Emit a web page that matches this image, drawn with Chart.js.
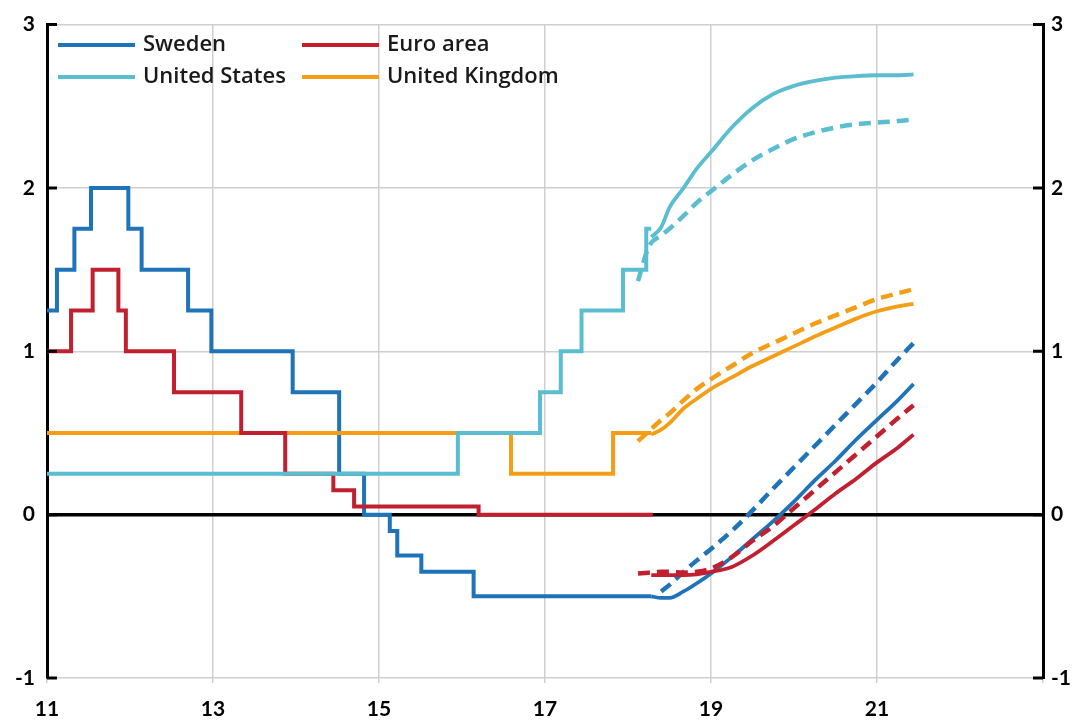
<!DOCTYPE html>
<html>
<head>
<meta charset="utf-8">
<script src="https://cdn.jsdelivr.net/npm/chart.js@4"></script>
<style>
  html, body { margin: 0; padding: 0; background: #fff; }
  #wrap { width: 1080px; height: 724px; position: relative; }
</style>
</head>
<body>
<div id="wrap"><canvas id="rateChart"></canvas></div>
<script>
// Policy rates, per cent (x = year, 11 = 2011)

// Actual outcomes (step changes)
const swedenDates = [11, 11.12, 11.33, 11.53, 11.98, 12.14, 12.70, 12.98, 13.96, 14.52, 14.82, 15.13, 15.22, 15.51, 16.14, 18.28];
const swedenRates = [1.25, 1.5, 1.75, 2.0, 1.75, 1.5, 1.25, 1.0, 0.75, 0.25, 0, -0.1, -0.25, -0.35, -0.5, -0.5];

const euroDates = [11, 11.29, 11.55, 11.86, 11.95, 12.53, 13.34, 13.87, 14.45, 14.70, 16.20, 18.30];
const euroRates = [1.0, 1.25, 1.5, 1.25, 1.0, 0.75, 0.5, 0.25, 0.15, 0.05, 0, 0];

const usDates = [11, 15.95, 16.94, 17.19, 17.44, 17.94, 18.22, 18.28];
const usRates = [0.25, 0.5, 0.75, 1.0, 1.25, 1.5, 1.75, 1.75];

const ukDates = [11, 16.59, 17.82, 18.28];
const ukRates = [0.5, 0.25, 0.5, 0.5];

// Forward rates, latest (solid)
const newFcDates = [18.28, 18.4, 18.5, 18.67, 18.83, 19.0, 19.25, 19.5, 19.75, 20.0, 20.25, 20.5, 20.75, 21.0, 21.25, 21.44];
const swedenNew = [-0.50, -0.51, -0.51, -0.47, -0.42, -0.36, -0.26, -0.15, -0.04, 0.08, 0.21, 0.33, 0.46, 0.58, 0.70, 0.80];
const euroNew = [-0.37, -0.37, -0.37, -0.37, -0.365, -0.35, -0.32, -0.25, -0.16, -0.065, 0.03, 0.13, 0.22, 0.32, 0.41, 0.49];
const usNew = [1.70, 1.76, 1.88, 2.0, 2.12, 2.22, 2.37, 2.49, 2.575, 2.625, 2.655, 2.675, 2.685, 2.69, 2.69, 2.695];
const ukNew = [0.49, 0.52, 0.56, 0.65, 0.71, 0.77, 0.84, 0.91, 0.97, 1.03, 1.09, 1.145, 1.20, 1.245, 1.275, 1.29];

// Forward rates, earlier (dashed)
const oldFcDates = [18.12, 18.25, 18.4, 18.5, 18.67, 18.83, 19.0, 19.25, 19.5, 19.75, 20.0, 20.25, 20.5, 20.75, 21.0, 21.25, 21.44];
const swedenOld = [null, null, -0.47, -0.43, -0.35, -0.28, -0.21, -0.10, 0.026, 0.16, 0.29, 0.42, 0.55, 0.68, 0.81, 0.95, 1.05];
const euroOld = [-0.36, -0.355, -0.35, -0.35, -0.355, -0.35, -0.33, -0.26, -0.16, -0.07, 0.04, 0.15, 0.26, 0.37, 0.48, 0.59, 0.67];
const usOld = [1.43, 1.64, 1.71, 1.75, 1.83, 1.91, 1.98, 2.08, 2.17, 2.24, 2.30, 2.34, 2.37, 2.39, 2.40, 2.41, 2.42];
const ukOld = [0.45, 0.51, 0.58, 0.62, 0.70, 0.77, 0.83, 0.91, 0.99, 1.05, 1.11, 1.17, 1.22, 1.27, 1.32, 1.355, 1.38];

// Axis ticks
const xTicks = [11, 13, 15, 17, 19, 21];
const yTicks = [-1, 0, 1, 2, 3];

const legendNames = ['Sweden', 'Euro area', 'United States', 'United Kingdom'];

const BLUE = '#1f73b9';
const RED = '#c0202f';
const LIGHT = '#5bbdd0';
const ORANGE = '#f49d16';

const pts = (xs, ys) => xs.map((x, i) => ({ x: x, y: ys[i] }));

function stepSet(xs, ys, color) {
    return { data: pts(xs, ys), borderColor: color, borderWidth: 4, stepped: true, pointRadius: 0, fill: false };
}
function fcSet(xs, ys, color, dashed) {
    return {
        data: pts(xs, ys), borderColor: color, borderWidth: dashed ? 4.5 : 3.8,
        borderDash: dashed ? [12, 7] : [], cubicInterpolationMode: 'monotone',
        pointRadius: 0, fill: false, spanGaps: false
    };
}

// legend drawn inside the plot, two columns
const legendPlugin = {
    id: 'innerLegend',
    afterDatasetsDraw(chart) {
        const ctx = chart.ctx;
        const items = [
            { name: legendNames[0], color: BLUE, x: 58, y: 45 },
            { name: legendNames[1], color: RED, x: 302, y: 45 },
            { name: legendNames[2], color: LIGHT, x: 58, y: 77 },
            { name: legendNames[3], color: ORANGE, x: 302, y: 77 }
        ];
        ctx.save();
        ctx.font = '600 22px "Open Sans"';
        ctx.textBaseline = 'middle';
        items.forEach(it => {
            ctx.strokeStyle = it.color;
            ctx.lineWidth = 4;
            ctx.beginPath();
            ctx.moveTo(it.x, it.y);
            ctx.lineTo(it.x + 77, it.y);
            ctx.stroke();
            ctx.fillStyle = '#1a1a1a';
            ctx.fillText(it.name, it.x + 85, it.y);
        });
        ctx.restore();
    }
};

// short black ticks pointing into the plot on both y axes
const innerTicks = {
    id: 'innerTicks',
    afterDraw(chart) {
        const ctx = chart.ctx;
        const area = chart.chartArea;
        const y = chart.scales.y;
        ctx.save();
        ctx.strokeStyle = '#000';
        ctx.lineWidth = 3;
        yTicks.forEach(v => {
            const py = y.getPixelForValue(v);
            ctx.beginPath();
            ctx.moveTo(area.left, py);
            ctx.lineTo(area.left + 10, py);
            ctx.moveTo(area.right - 10, py);
            ctx.lineTo(area.right, py);
            ctx.stroke();
        });
        ctx.restore();
    }
};

const tickFont = { family: 'Lato', size: 21, weight: 'bold' };

// draw order: later datasets end up on top
new Chart(document.getElementById('rateChart'), {
    type: 'line',
    data: {
        datasets: [
            stepSet(usDates, usRates, LIGHT),
            stepSet(euroDates, euroRates, RED),
            stepSet(ukDates, ukRates, ORANGE),
            stepSet(swedenDates, swedenRates, BLUE),
            fcSet(oldFcDates, usOld, LIGHT, true),
            fcSet(newFcDates, usNew, LIGHT, false),
            fcSet(oldFcDates, ukOld, ORANGE, true),
            fcSet(newFcDates, ukNew, ORANGE, false),
            fcSet(oldFcDates, euroOld, RED, true),
            fcSet(newFcDates, euroNew, RED, false),
            fcSet(oldFcDates, swedenOld, BLUE, true),
            fcSet(newFcDates, swedenNew, BLUE, false)
        ]
    },
    options: {
        responsive: true,
        maintainAspectRatio: false,
        animation: false,
        layout: { padding: { top: 22, left: 0, right: 0, bottom: 0 } },
        plugins: {
            legend: { display: false },
            tooltip: { enabled: false }
        },
        scales: {
            x: {
                type: 'linear',
                min: 11,
                max: 23,
                afterBuildTicks: scale => {
                    scale.ticks = xTicks.concat([23]).map(v => ({ value: v }));
                },
                ticks: {
                    color: '#000',
                    font: tickFont,
                    padding: 14,
                    maxRotation: 0,
                    callback: v => (v === 23 ? '' : v)
                },
                grid: { color: '#cfcfcf', lineWidth: 1.5, tickLength: 5, tickColor: '#cfcfcf' },
                border: { display: false },
                afterFit: scale => { scale.height = 46; }
            },
            y: {
                position: 'left',
                min: -1,
                max: 3,
                afterBuildTicks: scale => {
                    scale.ticks = yTicks.map(v => ({ value: v }));
                },
                ticks: { color: '#000', font: tickFont, padding: 12 },
                grid: {
                    drawTicks: false,
                    color: c => (c.tick && c.tick.value === 0 ? '#000' : '#cfcfcf'),
                    lineWidth: c => (c.tick && c.tick.value === 0 ? 3.5 : 1.5)
                },
                border: { display: true, color: '#000', width: 3 },
                afterFit: scale => { scale.width = 47; }
            },
            y2: {
                position: 'right',
                min: -1,
                max: 3,
                afterBuildTicks: scale => {
                    scale.ticks = yTicks.map(v => ({ value: v }));
                },
                ticks: { color: '#000', font: tickFont, padding: 8 },
                grid: { drawOnChartArea: false, drawTicks: false },
                border: { display: true, color: '#000', width: 3 },
                afterFit: scale => { scale.width = 37; }
            }
        }
    },
    plugins: [legendPlugin, innerTicks]
});
</script>
</body>
</html>
